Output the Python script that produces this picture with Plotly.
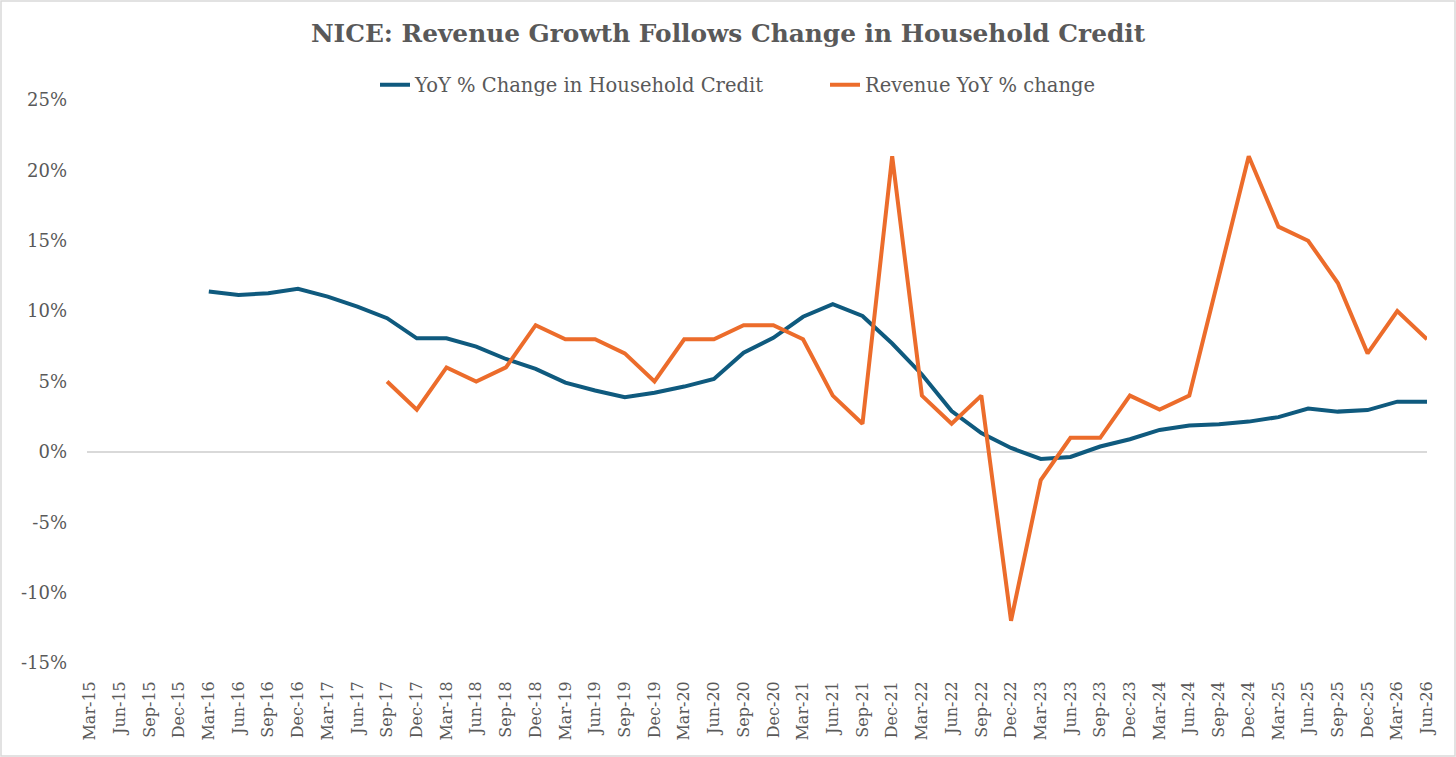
import plotly.graph_objects as go

quarters = [
    "Mar-15", "Jun-15", "Sep-15", "Dec-15",
    "Mar-16", "Jun-16", "Sep-16", "Dec-16",
    "Mar-17", "Jun-17", "Sep-17", "Dec-17",
    "Mar-18", "Jun-18", "Sep-18", "Dec-18",
    "Mar-19", "Jun-19", "Sep-19", "Dec-19",
    "Mar-20", "Jun-20", "Sep-20", "Dec-20",
    "Mar-21", "Jun-21", "Sep-21", "Dec-21",
    "Mar-22", "Jun-22", "Sep-22", "Dec-22",
    "Mar-23", "Jun-23", "Sep-23", "Dec-23",
    "Mar-24", "Jun-24", "Sep-24", "Dec-24",
    "Mar-25", "Jun-25", "Sep-25", "Dec-25",
    "Mar-26", "Jun-26",
]

# YoY % change in household credit (starts Mar-16)
household_credit = [None] * 4 + [
    11.4, 11.15, 11.27, 11.58,
    11.03, 10.32, 9.5, 8.07,
    8.07, 7.48, 6.6, 5.9,
    4.92, 4.36, 3.88, 4.2,
    4.64, 5.18, 7.05, 8.1,
    9.6, 10.5, 9.66, 7.7,
    5.5, 2.9, 1.33, 0.28,
    -0.5, -0.36, 0.38, 0.9,
    1.56, 1.88, 1.97, 2.15,
    2.47, 3.08, 2.86, 2.97,
    3.57, 3.57,
]

# Revenue YoY % change (starts Sep-17)
revenue_yoy = [None] * 10 + [
    5, 3,
    6, 5, 6, 9,
    8, 8, 7, 5,
    8, 8, 9, 9,
    8, 4, 2, 21,
    4, 2, 4, -12,
    -2, 1, 1, 4,
    3, 4, 12.5, 21,
    16, 15, 12, 7,
    10, 8,
]

y_tick_values = [-15, -10, -5, 0, 5, 10, 15, 20, 25]
y_tick_labels = ["-15%", "-10%", "-5%", "0%", "5%", "10%", "15%", "20%", "25%"]

FONT = "DejaVu Serif"
GREY = "#595959"
BLUE = "#0F5A7E"
ORANGE = "#EC6C2B"

fig = go.Figure()
fig.add_trace(go.Scatter(
    x=quarters, y=household_credit, mode="lines",
    name="YoY % Change in Household Credit",
    line=dict(color=BLUE, width=4),
    connectgaps=False,
))
fig.add_trace(go.Scatter(
    x=quarters, y=revenue_yoy, mode="lines",
    name="Revenue YoY % change",
    line=dict(color=ORANGE, width=4),
    connectgaps=False,
))

W, H = 1456, 757
ml, mr, mt, mb = 87, 29, 100, 94
pw = W - ml - mr
ph = H - mt - mb

fig.update_layout(
    width=W, height=H,
    margin=dict(l=ml, r=mr, t=mt, b=mb, autoexpand=False),
    paper_bgcolor="white", plot_bgcolor="white",
    font=dict(family=FONT, color=GREY),
    title=dict(
        text="<b>NICE: Revenue Growth Follows Change in Household Credit</b>",
        x=0.5, xref="container", xanchor="center",
        y=1 - 33 / H, yref="container", yanchor="middle",
        font=dict(family=FONT, size=24.8, color=GREY),
    ),
    legend=dict(
        orientation="h",
        x=(375 - ml) / pw, xref="paper", xanchor="left",
        y=1 + (mt - 85) / ph, yref="paper", yanchor="middle",
        font=dict(family=FONT, size=19.5, color=GREY),
        entrywidth=405, entrywidthmode="pixels",
        bgcolor="rgba(0,0,0,0)",
    ),
    showlegend=True,
    xaxis=dict(
        type="category",
        categoryorder="array", categoryarray=quarters,
        range=[-0.1, len(quarters) - 1],
        showgrid=False, zeroline=False, showline=False,
        tickangle=-90,
        tickfont=dict(family=FONT, size=16, color=GREY),
        ticks="", ticklabelstandoff=14,
        fixedrange=True,
    ),
    yaxis=dict(
        range=[-15, 25],
        tickvals=y_tick_values, ticktext=y_tick_labels,
        showgrid=False,
        zeroline=True, zerolinecolor="#D9D9D9", zerolinewidth=1.5,
        showline=False,
        tickfont=dict(family=FONT, size=18, color=GREY),
        ticks="", ticklabelstandoff=19,
        fixedrange=True,
    ),
)

# thin light border around the whole chart area (Excel chart-area frame)
fig.add_shape(
    type="rect", xref="paper", yref="paper",
    x0=(-ml + 1) / pw, x1=(pw + mr - 1) / pw,
    y0=(-mb + 1) / ph, y1=(ph + mt - 1) / ph,
    line=dict(color="#D9D9D9", width=1.5),
    fillcolor="rgba(0,0,0,0)", layer="below",
)

fig.write_html(
    "out.html",
    config={"displayModeBar": False},
    post_script="document.body.style.margin='0';document.body.style.overflow='hidden';",
)
